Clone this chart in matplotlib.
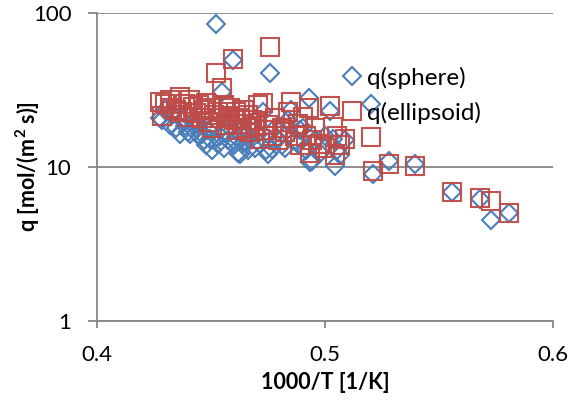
import numpy as np
import matplotlib.pyplot as plt
from matplotlib.ticker import FixedLocator, NullLocator

plt.rcParams['font.family'] = ['Lato', 'DejaVu Sans']

# 1000/T values shared by both series
inv_T = [0.4276, 0.4285, 0.4298, 0.4320, 0.4329, 0.4346, 0.4364, 0.4373, 0.4386, 0.4399,
         0.4408, 0.4421, 0.4434, 0.4447, 0.4461, 0.4469, 0.4478, 0.4487, 0.4496, 0.4504,
         0.4513, 0.4522, 0.4531, 0.4539, 0.4548, 0.4557, 0.4566, 0.4575, 0.4583, 0.4596,
         0.4601, 0.4610, 0.4618, 0.4627, 0.4636, 0.4645, 0.4654, 0.4662, 0.4671, 0.4680,
         0.4693, 0.4706, 0.4715, 0.4728, 0.4741, 0.4750, 0.4759, 0.4768, 0.4781, 0.4794,
         0.4811, 0.4825, 0.4838, 0.4851, 0.4868, 0.4882, 0.4890, 0.4904, 0.4917, 0.4930,
         0.4934, 0.4943, 0.4956, 0.4978, 0.5000, 0.5022, 0.5035, 0.5044, 0.5053, 0.5066,
         0.5088, 0.5202, 0.5211, 0.5281, 0.5395, 0.5557, 0.5680, 0.5728, 0.5807]

q_sphere = [20.7, 20.1, 23.3, 18.6, 21.7, 17.8, 16.5, 20.1, 18.4, 17.0,
            16.3, 19.5, 17.8, 15.8, 16.3, 14.9, 13.8, 17.3, 15.3, 12.8,
            18.1, 84.8, 14.2, 16.0, 30.6, 13.2, 16.8, 14.9, 17.8, 49.4,
            13.8, 15.6, 12.4, 12.1, 17.3, 14.4, 15.8, 12.8, 14.9, 18.6,
            13.2, 16.5, 14.0, 22.6, 12.8, 12.2, 40.7, 13.0, 17.8, 15.3,
            13.8, 13.2, 20.1, 23.3, 14.9, 14.2, 17.3, 17.8, 12.8, 27.9,
            10.7, 11.0, 14.9, 12.4, 16.0, 23.0, 15.3, 10.2, 12.8, 11.9,
            14.9, 25.5, 9.07, 10.9, 10.5, 6.92, 6.23, 4.55, 5.05]

q_ellipsoid = [26.3, 21.3, 25.5, 27.1, 24.0, 23.3, 28.4, 22.6, 25.5, 21.0,
               27.1, 24.4, 22.3, 25.2, 20.7, 23.3, 25.9, 19.5, 24.0, 17.8,
               21.7, 40.7, 22.6, 20.7, 32.5, 25.2, 18.6, 21.3, 24.0, 50.2,
               20.1, 22.6, 17.3, 20.7, 18.9, 23.3, 17.8, 21.7, 16.8, 20.1,
               18.4, 25.2, 15.3, 25.9, 17.3, 18.6, 60.0, 16.0, 20.7, 14.9,
               17.8, 16.8, 22.6, 26.3, 16.0, 18.9, 13.8, 21.0, 16.0, 24.0,
               12.4, 14.9, 17.8, 14.2, 13.2, 24.8, 18.1, 11.9, 16.0, 13.8,
               15.3, 15.6, 9.35, 10.5, 10.2, 6.92, 6.33, 6.05, 5.05]

x_ticks = [0.4, 0.5, 0.6]
y_ticks = [1, 10, 100]

fig = plt.figure(figsize=(5.81, 4.0), dpi=100)
ax = fig.add_axes([0.167, 0.1975, 0.785, 0.77])

grey = '#868686'
ax.plot(inv_T, q_sphere, linestyle='none', marker='D', markersize=9.2,
        markerfacecolor='none', markeredgecolor='#4a7ebb', markeredgewidth=1.5,
        label='q(sphere)')
ax.plot(inv_T, q_ellipsoid, linestyle='none', marker='s', markersize=12.8,
        markerfacecolor='none', markeredgecolor='#be4b48', markeredgewidth=1.5,
        alpha=0.95, label='q(ellipsoid)')

ax.set_yscale('log')
ax.set_xlim(0.4, 0.6)
ax.set_ylim(1, 100)
ax.xaxis.set_major_locator(FixedLocator(x_ticks))
ax.yaxis.set_major_locator(FixedLocator(y_ticks))
ax.yaxis.set_minor_locator(NullLocator())
ax.set_xticklabels(['0.4', '0.5', '0.6'])
ax.set_yticklabels(['1', '10', '100'])

ax.yaxis.grid(True, color=grey, linewidth=1.3)
ax.set_axisbelow(True)
for side in ['top', 'right']:
    ax.spines[side].set_visible(False)
for side in ['left', 'bottom']:
    ax.spines[side].set_color(grey)
    ax.spines[side].set_linewidth(1.3)
ax.tick_params(axis='y', direction='out', length=6.5, width=1.3, color=grey,
               labelsize=16, pad=12)
ax.tick_params(axis='x', direction='out', length=5, width=1.3, color=grey,
               labelsize=16, pad=12.5)

ax.set_xlabel('1000/T [1/K]', fontsize=15.5, fontweight='bold')
ax.set_ylabel('q [mol/(m$^\\mathregular{2}$ s)]', fontsize=15.5, fontweight='bold')
ax.xaxis.set_label_coords(0.5, -0.165)
ax.yaxis.set_label_coords(-0.12, 0.5)

ax.legend(loc='upper left', bbox_to_anchor=(0.512, 0.866), frameon=False,
          fontsize=17.5, numpoints=1, handlelength=0.8, handletextpad=0.2,
          labelspacing=0.55, borderpad=0)

plt.savefig('out.png', dpi=100)
